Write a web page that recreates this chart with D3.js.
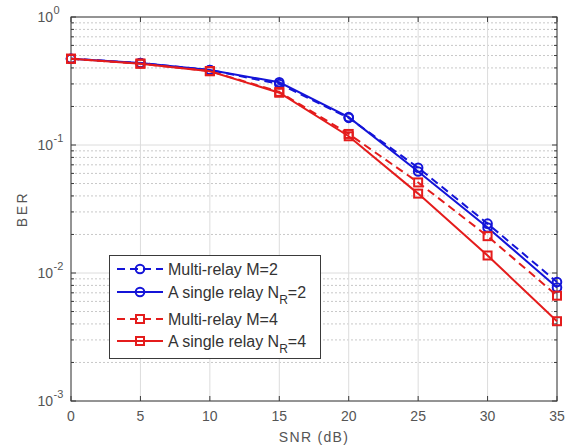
<!DOCTYPE html>
<html><head><meta charset="utf-8">
<script src="https://cdn.jsdelivr.net/npm/d3@7"></script>
<style>body{margin:0;background:#fff;} svg{display:block;font-family:Arial,"Liberation Sans",sans-serif;}</style>
</head><body>
<svg id="c" width="568" height="446"></svg>
<script>
const snr = [0, 5, 10, 15, 20, 25, 30, 35];
const multiM2 = [0.472, 0.437, 0.385, 0.300, 0.163, 0.0665, 0.0243, 0.0085];
const singleNR2 = [0.472, 0.437, 0.385, 0.309, 0.165, 0.062, 0.0227, 0.0077];
const multiM4 = [0.472, 0.432, 0.378, 0.260, 0.122, 0.051, 0.0194, 0.00665];
const singleNR4 = [0.472, 0.432, 0.377, 0.256, 0.117, 0.0417, 0.0137, 0.0042];
const xTicks = [0, 5, 10, 15, 20, 25, 30, 35];
const yDecades = [0, -1, -2, -3];
const seriesNames = ["Multi-relay M=2", "A single relay N_R=2", "Multi-relay M=4", "A single relay N_R=4"];

const blue = "#1414d8", red = "#e41c1c";
const series = [
  {name: seriesNames[0], vals: multiM2, color: blue, dash: "8,5", marker: "circle"},
  {name: seriesNames[1], vals: singleNR2, color: blue, dash: null, marker: "circle"},
  {name: seriesNames[2], vals: multiM4, color: red, dash: "8,5", marker: "square"},
  {name: seriesNames[3], vals: singleNR4, color: red, dash: null, marker: "square"}
];

const svg = d3.select("#c");
const L = 71, R = 557, T = 17, B = 401;
const x = d3.scaleLinear().domain([0, 35]).range([L, R]);
const y = d3.scaleLog().domain([1e-3, 1]).range([B, T]);

// minor grid (dotted)
const minors = [];
for (let e = -3; e < 0; e++) for (let k = 2; k <= 9; k++) minors.push(k * Math.pow(10, e));
svg.append("g").selectAll("line").data(minors).join("line")
  .attr("x1", L).attr("x2", R).attr("y1", d => y(d)).attr("y2", d => y(d))
  .attr("stroke", "#c8c8c8").attr("stroke-width", 1).attr("stroke-dasharray", "2,2");
// major grid
svg.append("g").selectAll("line").data(yDecades.map(e => Math.pow(10, e))).join("line")
  .attr("x1", L).attr("x2", R).attr("y1", d => y(d)).attr("y2", d => y(d))
  .attr("stroke", "#dcdcdc").attr("stroke-width", 1);
svg.append("g").selectAll("line").data(xTicks).join("line")
  .attr("x1", d => x(d)).attr("x2", d => x(d)).attr("y1", T).attr("y2", B)
  .attr("stroke", "#dcdcdc").attr("stroke-width", 1);

// axes box
svg.append("rect").attr("x", L).attr("y", T).attr("width", R - L).attr("height", B - T)
  .attr("fill", "none").attr("stroke", "#3a3a3a").attr("stroke-width", 1);

// ticks inward
const tk = svg.append("g").attr("stroke", "#3a3a3a").attr("stroke-width", 1);
xTicks.forEach(d => {
  tk.append("line").attr("x1", x(d)).attr("x2", x(d)).attr("y1", B).attr("y2", B - 5);
  tk.append("line").attr("x1", x(d)).attr("x2", x(d)).attr("y1", T).attr("y2", T + 5);
});
yDecades.forEach(e => {
  const v = Math.pow(10, e);
  tk.append("line").attr("x1", L).attr("x2", L + 5).attr("y1", y(v)).attr("y2", y(v));
  tk.append("line").attr("x1", R).attr("x2", R - 5).attr("y1", y(v)).attr("y2", y(v));
});
minors.forEach(v => {
  tk.append("line").attr("x1", L).attr("x2", L + 3).attr("y1", y(v)).attr("y2", y(v));
  tk.append("line").attr("x1", R).attr("x2", R - 3).attr("y1", y(v)).attr("y2", y(v));
});

// tick labels
const tc = "#555";
svg.append("g").selectAll("text").data(xTicks).join("text")
  .attr("x", d => x(d)).attr("y", B + 20).attr("text-anchor", "middle")
  .attr("font-size", 14).attr("fill", tc).text(d => d);
const yl = svg.append("g");
yDecades.forEach(e => {
  yl.append("text").attr("x", 53).attr("y", y(Math.pow(10, e)) + 5)
    .attr("text-anchor", "end").attr("font-size", 14).attr("fill", tc).text("10");
  yl.append("text").attr("x", 53.5).attr("y", y(Math.pow(10, e)) - 3)
    .attr("font-size", 11).attr("fill", tc).text(String(e));
});

// axis titles
svg.append("text").attr("x", x(17.5)).attr("y", 442).attr("text-anchor", "middle")
  .attr("font-size", 14).attr("letter-spacing", 1.3).attr("fill", tc).text("SNR (dB)");
svg.append("text").attr("transform", `translate(27,${(T + B) / 2}) rotate(-90)`)
  .attr("text-anchor", "middle").attr("font-size", 14).attr("letter-spacing", 2.5).attr("fill", tc).text("BER");

// lines
const line = d3.line().x((d, i) => x(snr[i])).y(d => y(d));
function marker(g, type, cx, cy, color) {
  if (type === "circle") g.append("circle").attr("cx", cx).attr("cy", cy).attr("r", 4.3)
    .attr("fill", "none").attr("stroke", color).attr("stroke-width", 2);
  else g.append("rect").attr("x", cx - 4).attr("y", cy - 4).attr("width", 8).attr("height", 8)
    .attr("fill", "none").attr("stroke", color).attr("stroke-width", 2);
}
series.forEach(s => {
  const g = svg.append("g");
  g.append("path").attr("d", line(s.vals)).attr("fill", "none").attr("stroke", s.color)
    .attr("stroke-width", 2).attr("stroke-dasharray", s.dash);
  s.vals.forEach((v, i) => marker(g, s.marker, x(snr[i]), y(v), s.color));
});

// legend
const lg = svg.append("g");
lg.append("rect").attr("x", 109.5).attr("y", 255.5).attr("width", 211).attr("height", 103)
  .attr("fill", "#fff").attr("stroke", "#3a3a3a").attr("stroke-width", 1);
const rowY = [269, 292, 319, 341];
series.forEach((s, i) => {
  const yy = rowY[i];
  lg.append("line").attr("x1", 117).attr("x2", 163).attr("y1", yy).attr("y2", yy)
    .attr("stroke", s.color).attr("stroke-width", 2).attr("stroke-dasharray", s.dash ? "8,5" : null);
  marker(lg, s.marker, 140, yy, s.color);
  const t = lg.append("text").attr("x", 168).attr("y", yy + 6).attr("font-size", 16).attr("fill", "#333");
  if (s.name.includes("N_R")) {
    const parts = s.name.split("N_R");
    t.append("tspan").text(parts[0] + "N");
    t.append("tspan").attr("dy", 6).attr("font-size", 12).text("R");
    t.append("tspan").attr("dy", -6).text(parts[1]);
  } else t.text(s.name);
});
</script>
</body></html>
